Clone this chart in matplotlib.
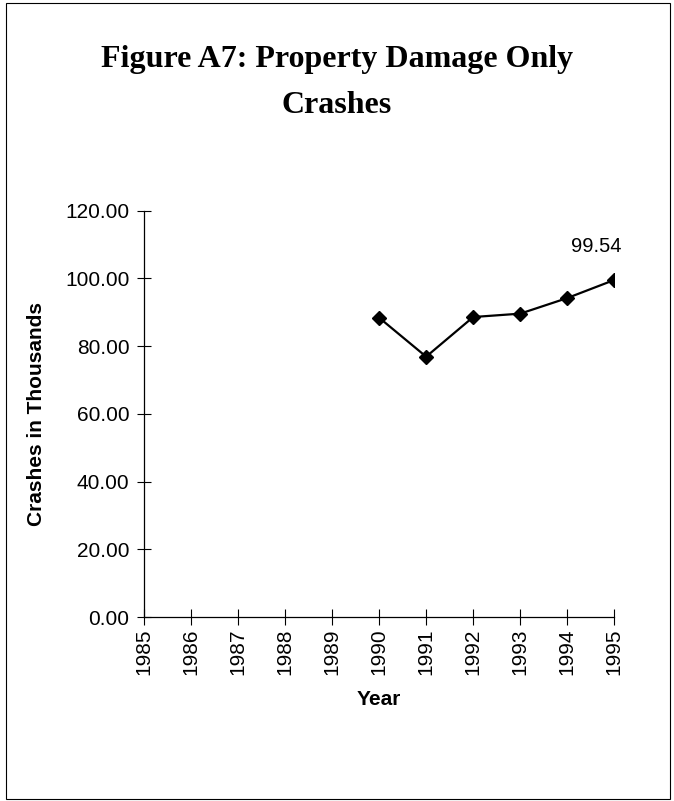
import matplotlib
matplotlib.use("Agg")
from matplotlib import pyplot as plt
from matplotlib.patches import Rectangle

years = [1990, 1991, 1992, 1993, 1994, 1995]
crashes = [88.4, 76.9, 88.6, 89.6, 94.2, 99.54]
year_ticks = list(range(1985, 1996))
crash_ticks = [0, 20, 40, 60, 80, 100, 120]

plt.rcParams['font.family'] = ['Liberation Sans', 'DejaVu Sans']

fig = plt.figure(figsize=(6.74, 8.01), dpi=100)
ax = fig.add_axes([0.2136, 0.2295, 0.9114 - 0.2136, 0.737 - 0.2295])

# frame around the whole figure, like the scanned page
fig.patches.append(Rectangle((0.009, 0.003), 0.985, 0.993, transform=fig.transFigure,
                             fill=False, edgecolor='black', linewidth=0.8))

ax.plot(years, crashes, color='black', linewidth=1.6, marker='D', markersize=7.5)
ax.annotate(f"{crashes[-1]:.2f}", (years[-1], crashes[-1]), xytext=(5, 24),
            textcoords='offset points', ha='right', va='center', fontsize=14.5)

ax.set_xlim(1985, 1995)
ax.set_ylim(0, 120)
ax.set_xticks(year_ticks)
ax.set_xticklabels([str(y) for y in year_ticks], rotation=90, fontsize=15)
ax.set_yticks(crash_ticks)
ax.set_yticklabels([f"{v:.2f}" for v in crash_ticks], fontsize=15)

ax.tick_params(axis='y', direction='inout', length=10, width=0.8, pad=5.5)
ax.tick_params(axis='x', direction='inout', length=12, width=0.8, pad=2)

for side in ('top', 'right'):
    ax.spines[side].set_visible(False)
for side in ('left', 'bottom'):
    ax.spines[side].set_linewidth(0.9)
ax.patch.set_visible(False)

ax.set_ylabel("Crashes in Thousands", fontsize=15, fontweight='bold', labelpad=14)
ax.set_xlabel("Year", fontsize=15, fontweight='bold', labelpad=11)

fig.text(0.5, 0.897, "Figure A7: Property Damage Only\nCrashes", ha='center', va='center',
         fontsize=23, fontweight='bold', family=['Liberation Serif', 'DejaVu Serif'],
         linespacing=1.75)

fig.savefig("out.png", dpi=100)
